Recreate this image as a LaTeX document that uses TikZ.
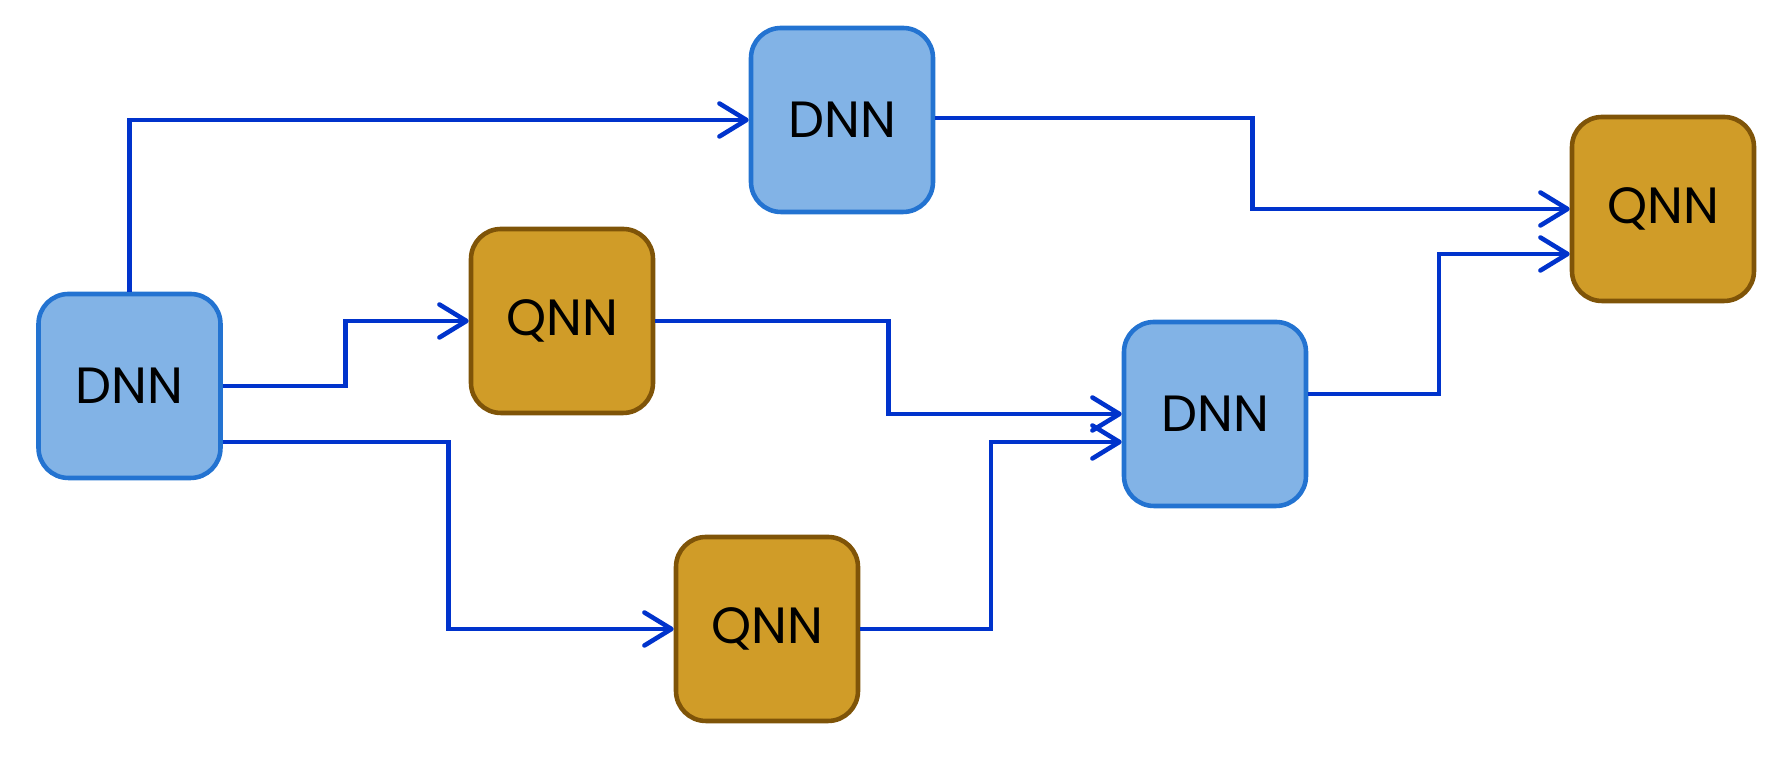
\documentclass[tikz,border=0pt]{standalone}
\usepackage{fontspec}
\setmainfont{Poppins}
\usepackage{tikz}
\usetikzlibrary{positioning, calc, arrows.meta}
\usepackage{xcolor}

\definecolor{dnnfill}{HTML}{82B3E6}
\definecolor{dnnline}{HTML}{2373D1}
\definecolor{qnnfill}{HTML}{D09C28}
\definecolor{qnnline}{HTML}{7F5408}
\definecolor{linkblue}{HTML}{0033CC}

\tikzset{
    netbox/.style={rounded corners=0.3cm, line width=1.3pt, minimum width=1.82cm,
        minimum height=1.84cm, inner sep=0pt, font=\fontsize{14.5}{17}\selectfont},
    dnnbox/.style={netbox, fill=dnnfill, draw=dnnline},
    qnnbox/.style={netbox, fill=qnnfill, draw=qnnline},
    link/.style={draw=linkblue, line width=1.3pt,
        -{Straight Barb[length=2.7mm, width=3.3mm, round]}}
}

\begin{document}
\begin{tikzpicture}
            \useasboundingbox (0,0) rectangle (17.8,7.69);

            \node[dnnbox] (dnnA) at (1.295,3.83) {DNN};
            \node[dnnbox] (dnnB) at (8.42,6.49) {DNN};
            \node[qnnbox] (qnnA) at (5.62,4.48) {QNN};
            \node[qnnbox] (qnnB) at (7.67,1.40) {QNN};
            \node[dnnbox] (dnnC) at (12.15,3.55) {DNN};
            \node[qnnbox] (qnnC) at (16.63,5.60) {QNN};

            % first stage
            \draw[link] (dnnA.north) |- (dnnB.west);
            \draw[link] (dnnA.east) -| ($(dnnA.east)!0.5!(qnnA.west)$) |- (qnnA.west);
            \draw[link] ([yshift=-0.56cm]dnnA.east) -| ($(dnnA.east)!0.5!(qnnB.west)$) |- (qnnB.west);

            % second stage
            \draw[link] ([yshift=0.02cm]dnnB.east) -| ($(dnnB.east)!0.5!(qnnC.west)$) |- (qnnC.west);
            \draw[link] (qnnA.east) -| ($(qnnA.east)!0.5!(dnnC.west)$) |- (dnnC.west);
            \draw[link] (qnnB.east) -| ($(qnnB.east)!0.5!(dnnC.west)$) |- ([yshift=-0.28cm]dnnC.west);
            \draw[link] ([yshift=0.2cm]dnnC.east) -| ($(dnnC.east)!0.5!(qnnC.west)$) |- ([yshift=-0.45cm]qnnC.west);
        \end{tikzpicture}
\end{document}
